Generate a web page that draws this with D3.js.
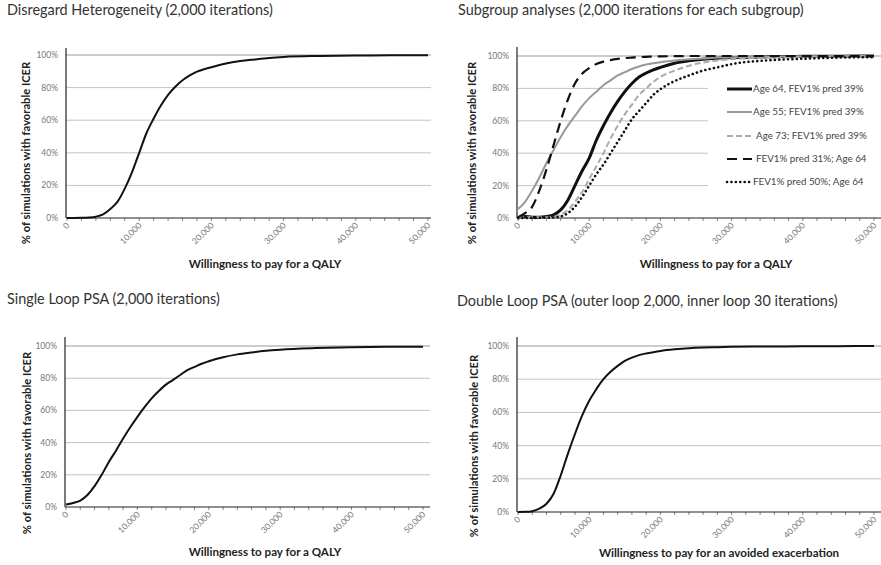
<!DOCTYPE html>
<html>
<head>
<meta charset="utf-8">
<script src="https://cdn.jsdelivr.net/npm/d3@7"></script>
<style>
  body { margin: 0; background: #fff; }
  svg { display: block; }
</style>
</head>
<body>
<div id="chart"></div>
<script>
// willingness to pay (x categories)
const wtp = [0, 1000, 2000, 3000, 4000, 5000, 6000, 7000, 8000, 9000, 10000,
  11000, 12000, 13000, 14000, 15000, 16000, 17000, 18000, 19000, 20000,
  22000, 24000, 26000, 28000, 30000, 35000, 40000, 45000, 50000];

// % of simulations with favorable ICER
const disregard = [0, 0, 0.1, 0.3, 0.8, 2.2, 5.5, 10, 18, 28, 40,
  52, 61, 69, 75.5, 80.5, 84.5, 87.5, 89.8, 91.3, 92.5,
  94.8, 96.3, 97.3, 98.2, 98.8, 99.4, 99.7, 99.8, 99.9];

const age64 = [0, 1, 0.5, 0.5, 1, 2, 5, 11, 20, 29, 37,
  48, 57, 65, 72, 78, 83, 87, 89.5, 91.5, 93,
  95.5, 97, 98, 98.6, 99, 99.5, 99.8, 99.9, 100];
const age55 = [5.5, 10, 17, 25, 34, 42, 50, 57, 63, 69, 74,
  78, 82, 85, 88, 90, 92, 93.5, 94.7, 95.5, 96.2,
  97.2, 98, 98.5, 99, 99.2, 99.6, 99.8, 99.9, 100];
const age73 = [0, 0.5, 0.5, 0.5, 0.5, 0.7, 2, 5, 10, 16, 24,
  32, 40, 49, 57, 64, 70, 76, 80, 84, 87,
  91, 94, 96, 97.2, 98, 99, 99.5, 99.7, 99.8];
const fev31 = [0.5, 3, 7, 17, 30, 45, 60, 73, 83, 89, 92.5,
  95, 96.5, 97.5, 98.2, 98.7, 99, 99.3, 99.5, 99.7, 99.8,
  99.9, 100, 100, 100, 100, 100, 100, 100, 100];
const fev50 = [0, 0, 0, 0.2, 0.2, 0.3, 1, 3, 7, 13, 20,
  27, 33, 40, 47, 54, 61, 66, 71, 76, 79.5,
  84.5, 88, 91, 93, 95, 97.3, 98.3, 99, 99.3];

const singleLoop = [1.5, 2.5, 4, 7.5, 13, 20, 28, 35, 42.5, 49.5, 56,
  62, 67.5, 72, 76, 79, 82, 85, 87, 89, 90.5,
  93, 94.8, 96, 97, 97.7, 98.7, 99.3, 99.5, 99.5];

const doubleLoop = [0, 0.1, 0.5, 2, 5, 11, 22, 35, 47, 58, 67,
  74, 80, 84.5, 88, 91, 93, 94.5, 95.5, 96.3, 97,
  98, 98.7, 99.1, 99.3, 99.5, 99.7, 99.8, 99.9, 100];

const yTicks = [0, 20, 40, 60, 80, 100];
const xLabels = [0, 10000, 20000, 30000, 40000, 50000];
const xMinor = d3.range(0, 50001, 2000);

const subgroupNames = ["Age 64, FEV1% pred 39%", "Age 55; FEV1% pred 39%",
  "Age 73; FEV1% pred 39%", "FEV1% pred 31%; Age 64", "FEV1% pred 50%; Age 64"];

const svg = d3.select("#chart").append("svg")
  .attr("width", 881)
  .attr("height", 565);

const lineStyles = [
  { stroke: "#111", width: 3, dash: null, cap: "butt" },
  { stroke: "#999", width: 2, dash: null, cap: "butt" },
  { stroke: "#aaa", width: 2, dash: "6,3", cap: "butt" },
  { stroke: "#111", width: 2.2, dash: "10,6", cap: "butt" },
  { stroke: "#111", width: 2.6, dash: "0.1,4.3", cap: "round" }
];

function drawPanel(p) {
  const g = svg.append("g");

  const x = d3.scaleLinear().domain([0, 50000]).range([p.x0, p.x50]);
  const y = d3.scaleLinear().domain([0, 100]).range([p.yBottom, p.yTop]);

  // title
  g.append("text")
    .attr("x", p.titleX).attr("y", p.titleY)
    .attr("font-family", "Lato, sans-serif")
    .attr("font-size", 14.4)
    .attr("fill", "#333")
    .text(p.title);

  // gridlines
  g.selectAll(".grid").data(yTicks.filter(d => d > 0)).enter()
    .append("line")
    .attr("x1", p.axisX).attr("x2", d => (d < 100 && p.gridEnd) ? p.gridEnd : p.xEnd)
    .attr("y1", d => y(d)).attr("y2", d => y(d))
    .attr("stroke", d => d === 100 ? "#999" : "#c4c4c4")
    .attr("stroke-width", 1);

  // y labels
  g.selectAll(".ylab").data(yTicks).enter()
    .append("text")
    .attr("x", p.axisX - 8).attr("y", d => y(d))
    .attr("dy", "0.35em")
    .attr("text-anchor", "end")
    .attr("font-family", "Lato, sans-serif")
    .attr("font-size", 8.5)
    .attr("fill", "#777")
    .text(d => d + "%");

  // x minor ticks
  g.selectAll(".xt").data(xMinor).enter()
    .append("line")
    .attr("x1", d => x(d)).attr("x2", d => x(d))
    .attr("y1", p.yBottom).attr("y2", p.yBottom + 3)
    .attr("stroke", "#888");

  // x labels, rotated
  g.selectAll(".xlab").data(xLabels).enter()
    .append("text")
    .attr("transform", d => `translate(${x(d) + 3},${p.yBottom + 8}) rotate(-45)`)
    .attr("text-anchor", "end")
    .attr("font-family", "Lato, sans-serif")
    .attr("font-size", 8.5)
    .attr("fill", "#777")
    .text(d => d3.format(",")(d));

  // axes
  g.append("line")
    .attr("x1", p.axisX).attr("x2", p.axisX)
    .attr("y1", p.axisTop).attr("y2", p.yBottom)
    .attr("stroke", "#222").attr("stroke-width", 1.2);
  g.append("line")
    .attr("x1", p.axisX).attr("x2", p.xEnd)
    .attr("y1", p.yBottom).attr("y2", p.yBottom)
    .attr("stroke", "#222").attr("stroke-width", 1.2);

  // axis titles
  g.append("text")
    .attr("transform", `translate(${p.yTitleX},${p.yTitleY}) rotate(-90)`)
    .attr("text-anchor", "middle")
    .attr("font-family", "Lato, sans-serif")
    .attr("font-weight", "bold")
    .attr("font-size", 11.2)
    .attr("fill", "#222")
    .text("% of simulations with favorable ICER");
  g.append("text")
    .attr("x", p.xTitleX).attr("y", p.xTitleY)
    .attr("text-anchor", "middle")
    .attr("font-family", "Lato, sans-serif")
    .attr("font-weight", "bold")
    .attr("font-size", 11.6)
    .attr("fill", "#222")
    .text(p.xTitle);

  const line = d3.line()
    .x((d, i) => x(wtp[i]))
    .y(d => y(d))
    .curve(d3.curveMonotoneX);

  p.series.forEach((s, k) => {
    const st = p.styles ? p.styles[k] : { stroke: "#111", width: 2, dash: null, cap: "butt" };
    g.append("path")
      .attr("d", line(s))
      .attr("fill", "none")
      .attr("stroke", st.stroke)
      .attr("stroke-width", st.width)
      .attr("stroke-dasharray", st.dash)
      .attr("stroke-linecap", st.cap);
  });

  return g;
}

drawPanel({
  title: "Disregard Heterogeneity (2,000 iterations)", titleX: 7, titleY: 15,
  axisX: 66, axisTop: 48, x0: 67, x50: 428, xEnd: 431, yTop: 55, yBottom: 218,
  yTitleX: 30, yTitleY: 153, xTitleX: 265, xTitleY: 268,
  xTitle: "Willingness to pay for a QALY",
  series: [disregard]
});

const sub = drawPanel({
  title: "Subgroup analyses (2,000 iterations for each subgroup)", titleX: 458, titleY: 15,
  axisX: 517, axisTop: 47, x0: 518, x50: 874, xEnd: 881, yTop: 56, yBottom: 218,
  gridEnd: 708,
  yTitleX: 476, yTitleY: 153, xTitleX: 716, xTitleY: 268,
  xTitle: "Willingness to pay for a QALY",
  series: [age64, age55, age73, fev31, fev50],
  styles: lineStyles
});

drawPanel({
  title: "Single Loop PSA (2,000 iterations)", titleX: 7, titleY: 304,
  axisX: 65, axisTop: 337, x0: 66, x50: 423, xEnd: 430, yTop: 346, yBottom: 507,
  yTitleX: 31, yTitleY: 443, xTitleX: 265, xTitleY: 556,
  xTitle: "Willingness to pay for a QALY",
  series: [singleLoop]
});

drawPanel({
  title: "Double Loop PSA (outer loop 2,000, inner loop 30 iterations)", titleX: 457, titleY: 306,
  axisX: 517, axisTop: 337, x0: 518, x50: 874, xEnd: 881, yTop: 346, yBottom: 512,
  yTitleX: 478, yTitleY: 446, xTitleX: 719, xTitleY: 557,
  xTitle: "Willingness to pay for an avoided exacerbation",
  series: [doubleLoop]
});

// legend for subgroup panel
const legendY = [89, 112, 136, 159, 182];
const leg = sub.selectAll(".leg").data(subgroupNames).enter()
  .append("g")
  .attr("transform", (d, i) => `translate(727,${legendY[i]})`);
leg.append("line")
  .attr("x1", 0).attr("x2", 25).attr("y1", 0).attr("y2", 0)
  .attr("stroke", (d, i) => lineStyles[i].stroke)
  .attr("stroke-width", (d, i) => lineStyles[i].width)
  .attr("stroke-dasharray", (d, i) => lineStyles[i].dash)
  .attr("stroke-linecap", (d, i) => lineStyles[i].cap);
leg.append("text")
  .attr("x", (d, i) => i === 2 || i === 3 ? 29 : 26)
  .attr("dy", "0.35em")
  .attr("font-family", "Lato, sans-serif")
  .attr("font-size", 9.8)
  .attr("fill", "#444")
  .text(d => d);
</script>
</body>
</html>
